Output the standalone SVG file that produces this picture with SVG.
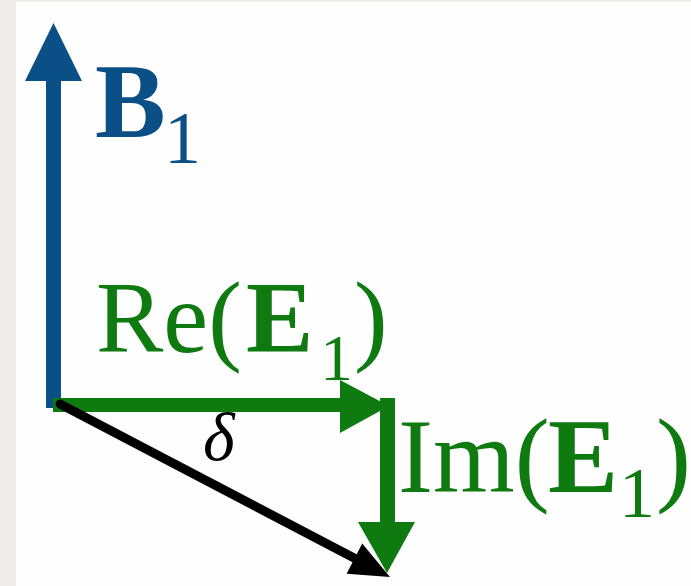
<svg xmlns="http://www.w3.org/2000/svg" width="691" height="586" viewBox="0 0 691 586">
<style>
.lbl{font-family:"Liberation Serif","Times New Roman",serif}
.b{font-weight:bold}
.blue{fill:#0b4f87}
.green{fill:#0f7a10}
.blk{fill:#000}
</style>
<rect x="0" y="0" width="691" height="586" fill="#efedea"/>
<rect x="16" y="2" width="675" height="584" fill="#fefefe"/>
<g id="connectors">
  <g id="arrow-B1" class="blue">
    <rect x="46" y="78" width="15" height="330"/>
    <polygon points="25,81 82,81 53.5,23"/>
  </g>
  <g id="arrow-ReE1" class="green">
    <rect x="53" y="398" width="290" height="14"/>
    <polygon points="340,380 340,433 389,406"/>
  </g>
  <g id="arrow-E1" class="blk">
    <line x1="60" y1="404" x2="356" y2="559" stroke="#000" stroke-width="9" stroke-linecap="round"/>
    <polygon points="390,577 346.6,573.8 362.2,543.6"/>
  </g>
  <g id="arrow-ImE1" class="green">
    <rect x="380" y="398" width="15" height="126"/>
    <polygon points="358,522 415,522 387,573"/>
  </g>
</g>
<g id="label-B1" class="lbl blue">
  <text x="95" y="137" font-size="106" class="b">B</text>
  <text x="164" y="163" font-size="74">1</text>
</g>
<g id="label-ReE1" class="lbl green">
  <text x="96" y="352" font-size="101">Re(</text>
  <text x="246" y="352" font-size="101" class="b">E</text>
  <text x="320" y="380" font-size="66">1</text>
  <text x="354" y="352" font-size="101">)</text>
</g>
<g id="label-ImE1" class="lbl green">
  <text x="398" y="492" font-size="105">Im(</text>
  <text x="548" y="492" font-size="105" class="b">E</text>
  <text x="619" y="517" font-size="72">1</text>
  <text x="656" y="492" font-size="105">)</text>
</g>
<g id="label-delta" class="lbl blk">
  <text x="203" y="460" font-size="68" font-style="italic">δ</text>
</g>
</svg>
